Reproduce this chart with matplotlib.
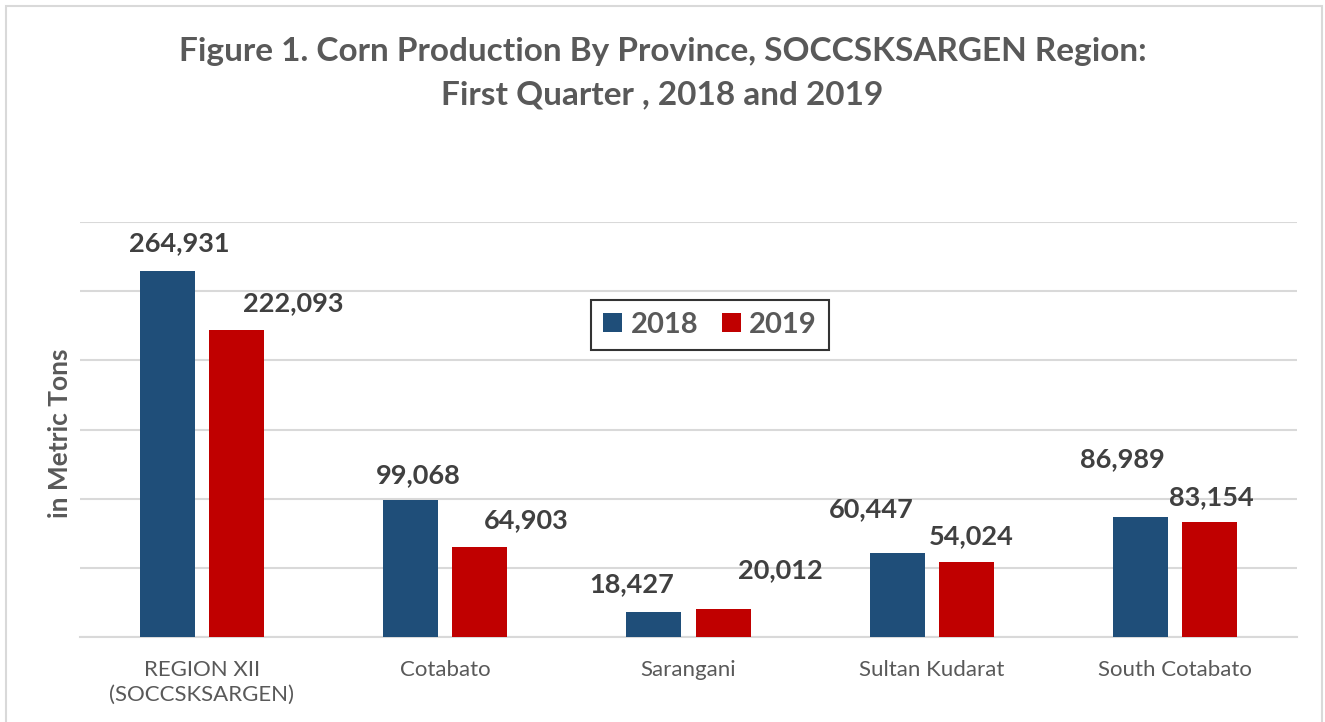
import numpy as np
import matplotlib.pyplot as plt
from matplotlib.patches import Rectangle

# chart data
provinces = ["REGION XII\n(SOCCSKSARGEN)", "Cotabato", "Sarangani", "Sultan Kudarat", "South Cotabato"]
prod_2018 = [264931, 99068, 18427, 60447, 86989]
prod_2019 = [222093, 64903, 20012, 54024, 83154]

# label offsets in pixels (labels were moved by hand in the original)
offsets_2018 = [(12, 27), (8, 25), (-22, 27), (-26, 44), (-18, 58)]
offsets_2019 = [(57, 27), (47, 27), (57, 39), (5, 26), (2, 25)]

BLUE = "#1F4E79"
RED = "#C00000"
GRAY = "#595959"
DARK = "#404040"

plt.rcParams['font.family'] = ['Lato', 'DejaVu Sans']

fig = plt.figure(figsize=(13.25, 7.22), dpi=100)
ax = fig.add_axes([80 / 1325, 1 - 637 / 722, 1217 / 1325, 415 / 722])

# chart border
fig.patches.append(Rectangle((6 / 1325, -0.01), 1316 / 1325, 1 - 6 / 722 + 0.01,
                             transform=fig.transFigure, fill=False,
                             edgecolor="#D9D9D9", linewidth=1.5))

x = np.arange(len(provinces))
w = 0.226
d = 0.142
b1 = ax.bar(x - d, prod_2018, w, color=BLUE, label="2018", zorder=3)
b2 = ax.bar(x + d, prod_2019, w, color=RED, label="2019", zorder=3)

for bars, vals, offs in [(b1, prod_2018, offsets_2018), (b2, prod_2019, offsets_2019)]:
    for bar, v, (dx, dy) in zip(bars, vals, offs):
        ax.annotate(f"{v:,}", (bar.get_x() + bar.get_width() / 2, v),
                    xytext=(dx * 0.72, dy * 0.72), textcoords="offset points",
                    ha="center", va="center", fontsize=19.5, fontweight="bold",
                    color=DARK)

ax.set_xlim(-0.5, len(provinces) - 0.5)
ax.set_ylim(0, 300000)
ax.set_yticks(np.arange(0, 300001, 50000))
ax.yaxis.grid(True, color="#D9D9D9", linewidth=1.5, zorder=0)
ax.tick_params(axis="y", left=False, labelleft=False)
ax.tick_params(axis="x", bottom=False, labelsize=16, labelcolor=GRAY, pad=13)
ax.set_xticks(x)
ax.set_xticklabels(provinces, linespacing=1.3)
for s in ["top", "right", "left"]:
    ax.spines[s].set_visible(False)
ax.spines["bottom"].set_color("#D9D9D9")
ax.spines["bottom"].set_linewidth(1.5)

fig.text(60 / 1325, 1 - 433 / 722, "in Metric Tons", rotation=90, ha="center",
         va="center", fontsize=19, fontweight="bold", color=GRAY)

fig.suptitle("Figure 1. Corn Production By Province, SOCCSKSARGEN Region:\nFirst Quarter , 2018 and 2019",
             x=0.5, y=1 - 37 / 722, va="top", fontsize=24, fontweight="bold",
             color=GRAY, linespacing=1.6)

leg = ax.legend(loc="center", bbox_to_anchor=(710 / 1325, 1 - 325 / 722),
                bbox_transform=fig.transFigure, ncol=2, fontsize=21,
                frameon=True, fancybox=False, handlelength=0.65, handleheight=0.65,
                handletextpad=0.3, columnspacing=0.8, borderpad=0.4)
leg.get_frame().set_edgecolor("black")
leg.get_frame().set_linewidth(1.5)
for t in leg.get_texts():
    t.set_color(GRAY)
    t.set_fontweight("bold")

fig.savefig("out.png", dpi=100)
